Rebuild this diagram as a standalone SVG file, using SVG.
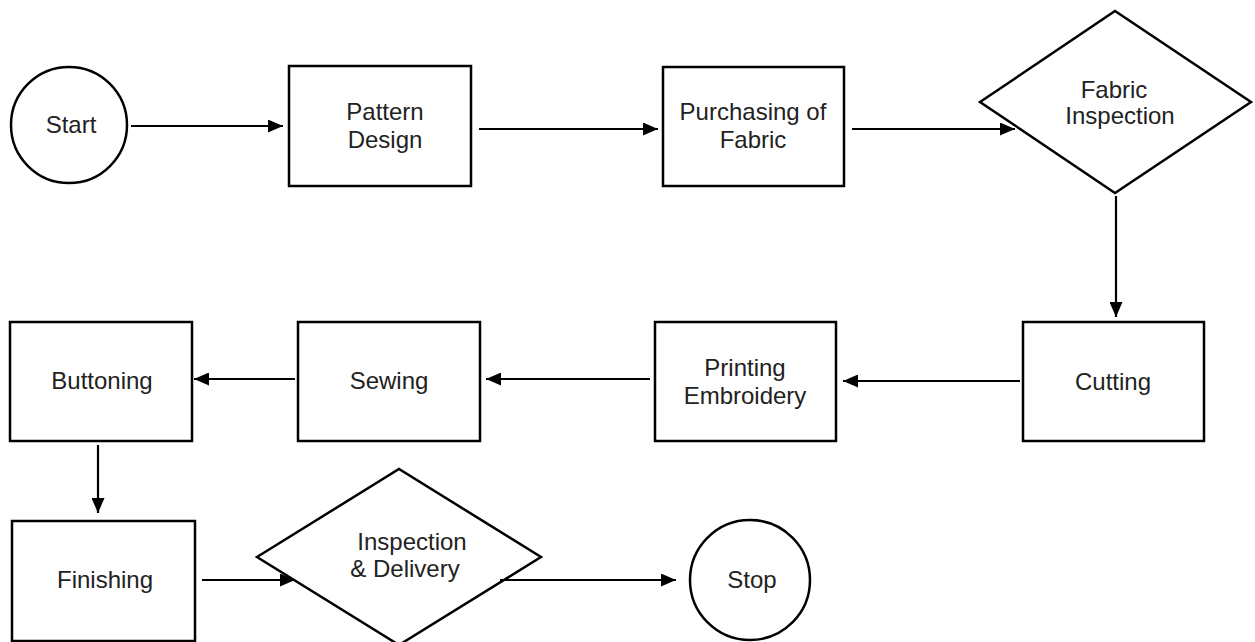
<svg xmlns="http://www.w3.org/2000/svg" width="1255" height="642" viewBox="0 0 1255 642">
<style>
.shape{fill:#fff;stroke:#000;stroke-width:2.5}
.lbl{font-family:"Liberation Sans",Arial,sans-serif;font-size:24px;fill:#222;text-anchor:middle}
.conn{stroke:#000;stroke-width:2.2;fill:none;marker-end:url(#ah)}
</style>
<defs>
<marker id="ah" markerUnits="userSpaceOnUse" markerWidth="15" markerHeight="13" refX="15" refY="6.5" orient="auto">
<path d="M0,0 L15,6.5 L0,13 z" fill="#000"/>
</marker>
</defs>
<rect width="1255" height="642" fill="#fff"/>
<g id="start"><circle class="shape" cx="69" cy="125" r="58"/><text class="lbl" x="71" y="133">Start</text></g>
<g id="pattern"><rect class="shape" x="289" y="66" width="182" height="120"/><text class="lbl" x="385" y="120">Pattern</text><text class="lbl" x="385" y="148">Design</text></g>
<g id="purchasing"><rect class="shape" x="663" y="67" width="181" height="119"/><text class="lbl" x="753" y="120">Purchasing of</text><text class="lbl" x="753" y="148">Fabric</text></g>
<g id="fabricinspection"><polygon class="shape" points="980,102 1115,11 1251,102 1115,193"/><text class="lbl" x="1114" y="98">Fabric</text><text class="lbl" x="1120" y="124">Inspection</text></g>
<g id="cutting"><rect class="shape" x="1023" y="322" width="181" height="119"/><text class="lbl" x="1113" y="390">Cutting</text></g>
<g id="printing"><rect class="shape" x="655" y="322" width="181" height="119"/><text class="lbl" x="745" y="376">Printing</text><text class="lbl" x="745" y="404">Embroidery</text></g>
<g id="sewing"><rect class="shape" x="298" y="322" width="182" height="119"/><text class="lbl" x="389" y="389">Sewing</text></g>
<g id="buttoning"><rect class="shape" x="10" y="322" width="182" height="119"/><text class="lbl" x="102" y="389">Buttoning</text></g>
<g id="finishing"><rect class="shape" x="12" y="521" width="183" height="120"/><text class="lbl" x="105" y="588">Finishing</text></g>
<g id="inspectiondelivery"><polygon class="shape" points="257,557 399,469 541,557 399,645"/><text class="lbl" x="412" y="550">Inspection</text><text class="lbl" x="405" y="577">&amp; Delivery</text></g>
<g id="stop"><circle class="shape" cx="750" cy="580" r="60"/><text class="lbl" x="752" y="588">Stop</text></g>
<g id="connectors">
<line class="conn" x1="131" y1="126" x2="283" y2="126"/>
<line class="conn" x1="479" y1="129" x2="658" y2="129"/>
<line class="conn" x1="852" y1="129" x2="1015" y2="129"/>
<line class="conn" x1="1116" y1="196" x2="1116" y2="317"/>
<line class="conn" x1="1020" y1="381" x2="843" y2="381"/>
<line class="conn" x1="650" y1="379" x2="486" y2="379"/>
<line class="conn" x1="295" y1="379" x2="194" y2="379"/>
<line class="conn" x1="98" y1="445" x2="98" y2="513"/>
<line class="conn" x1="202" y1="580" x2="295" y2="580"/>
<line class="conn" x1="500" y1="580" x2="676" y2="580"/>
</g>
</svg>
